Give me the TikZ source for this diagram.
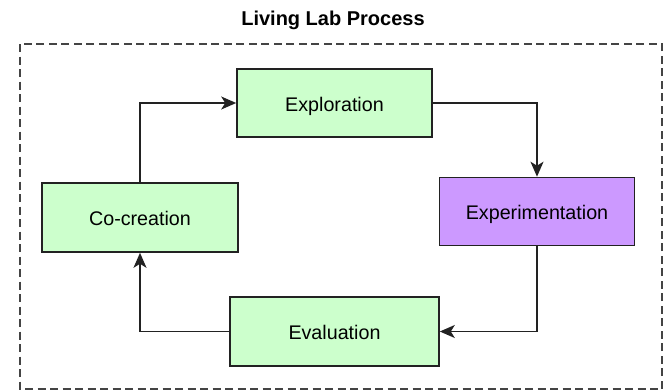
\documentclass[tikz,border=0pt]{standalone}
\usepackage{fontspec}
\setmainfont{Liberation Sans}
\usetikzlibrary{arrows.meta}
\definecolor{stagegreen}{HTML}{CCFFCC}
\definecolor{stagepurple}{HTML}{CC99FF}
\definecolor{edgegray}{HTML}{222222}
\definecolor{framegray}{HTML}{444444}
\begin{document}
\begin{tikzpicture}[x=1pt,y=-1pt,
  stage/.style={draw=edgegray, line width=1.6pt, minimum width=195pt, minimum height=68pt,
    inner sep=0pt, text height=16.5pt, text depth=0pt,
    font=\fontsize{19.7}{23}\selectfont, text=black},
  greenstage/.style={stage, fill=stagegreen},
  purplestage/.style={stage, fill=stagepurple},
  flow/.style={draw=edgegray, line width=1.5pt, -{Stealth[length=15pt,width=13pt,inset=4pt]}},
  frame/.style={draw=framegray, line width=1.6pt, dash pattern=on 8pt off 4.5pt},
  titletext/.style={font=\bfseries\fontsize{20}{24}\selectfont, text=black}]
\useasboundingbox (0,0) rectangle (664,391);
\node[titletext] (title) at (333,20) {Living Lab Process};
\draw[frame] (20,44) rectangle (662,389);
\node[greenstage] (exploration) at (334.5,103) {Exploration};
\node[purplestage] (experimentation) at (537,211.5) {Experimentation};
\node[greenstage, minimum width=196pt, minimum height=69pt] (cocreation) at (140,217.5) {Co-creation};
\node[greenstage, minimum width=209pt, minimum height=69pt] (evaluation) at (334.5,331.5) {Evaluation};
\draw[flow] (cocreation.north) |- (exploration.west);
\draw[flow] (exploration.east) -| (experimentation.north);
\draw[flow] (experimentation.south) |- (evaluation.east);
\draw[flow] (evaluation.west) -| (cocreation.south);
\end{tikzpicture}
\end{document}
